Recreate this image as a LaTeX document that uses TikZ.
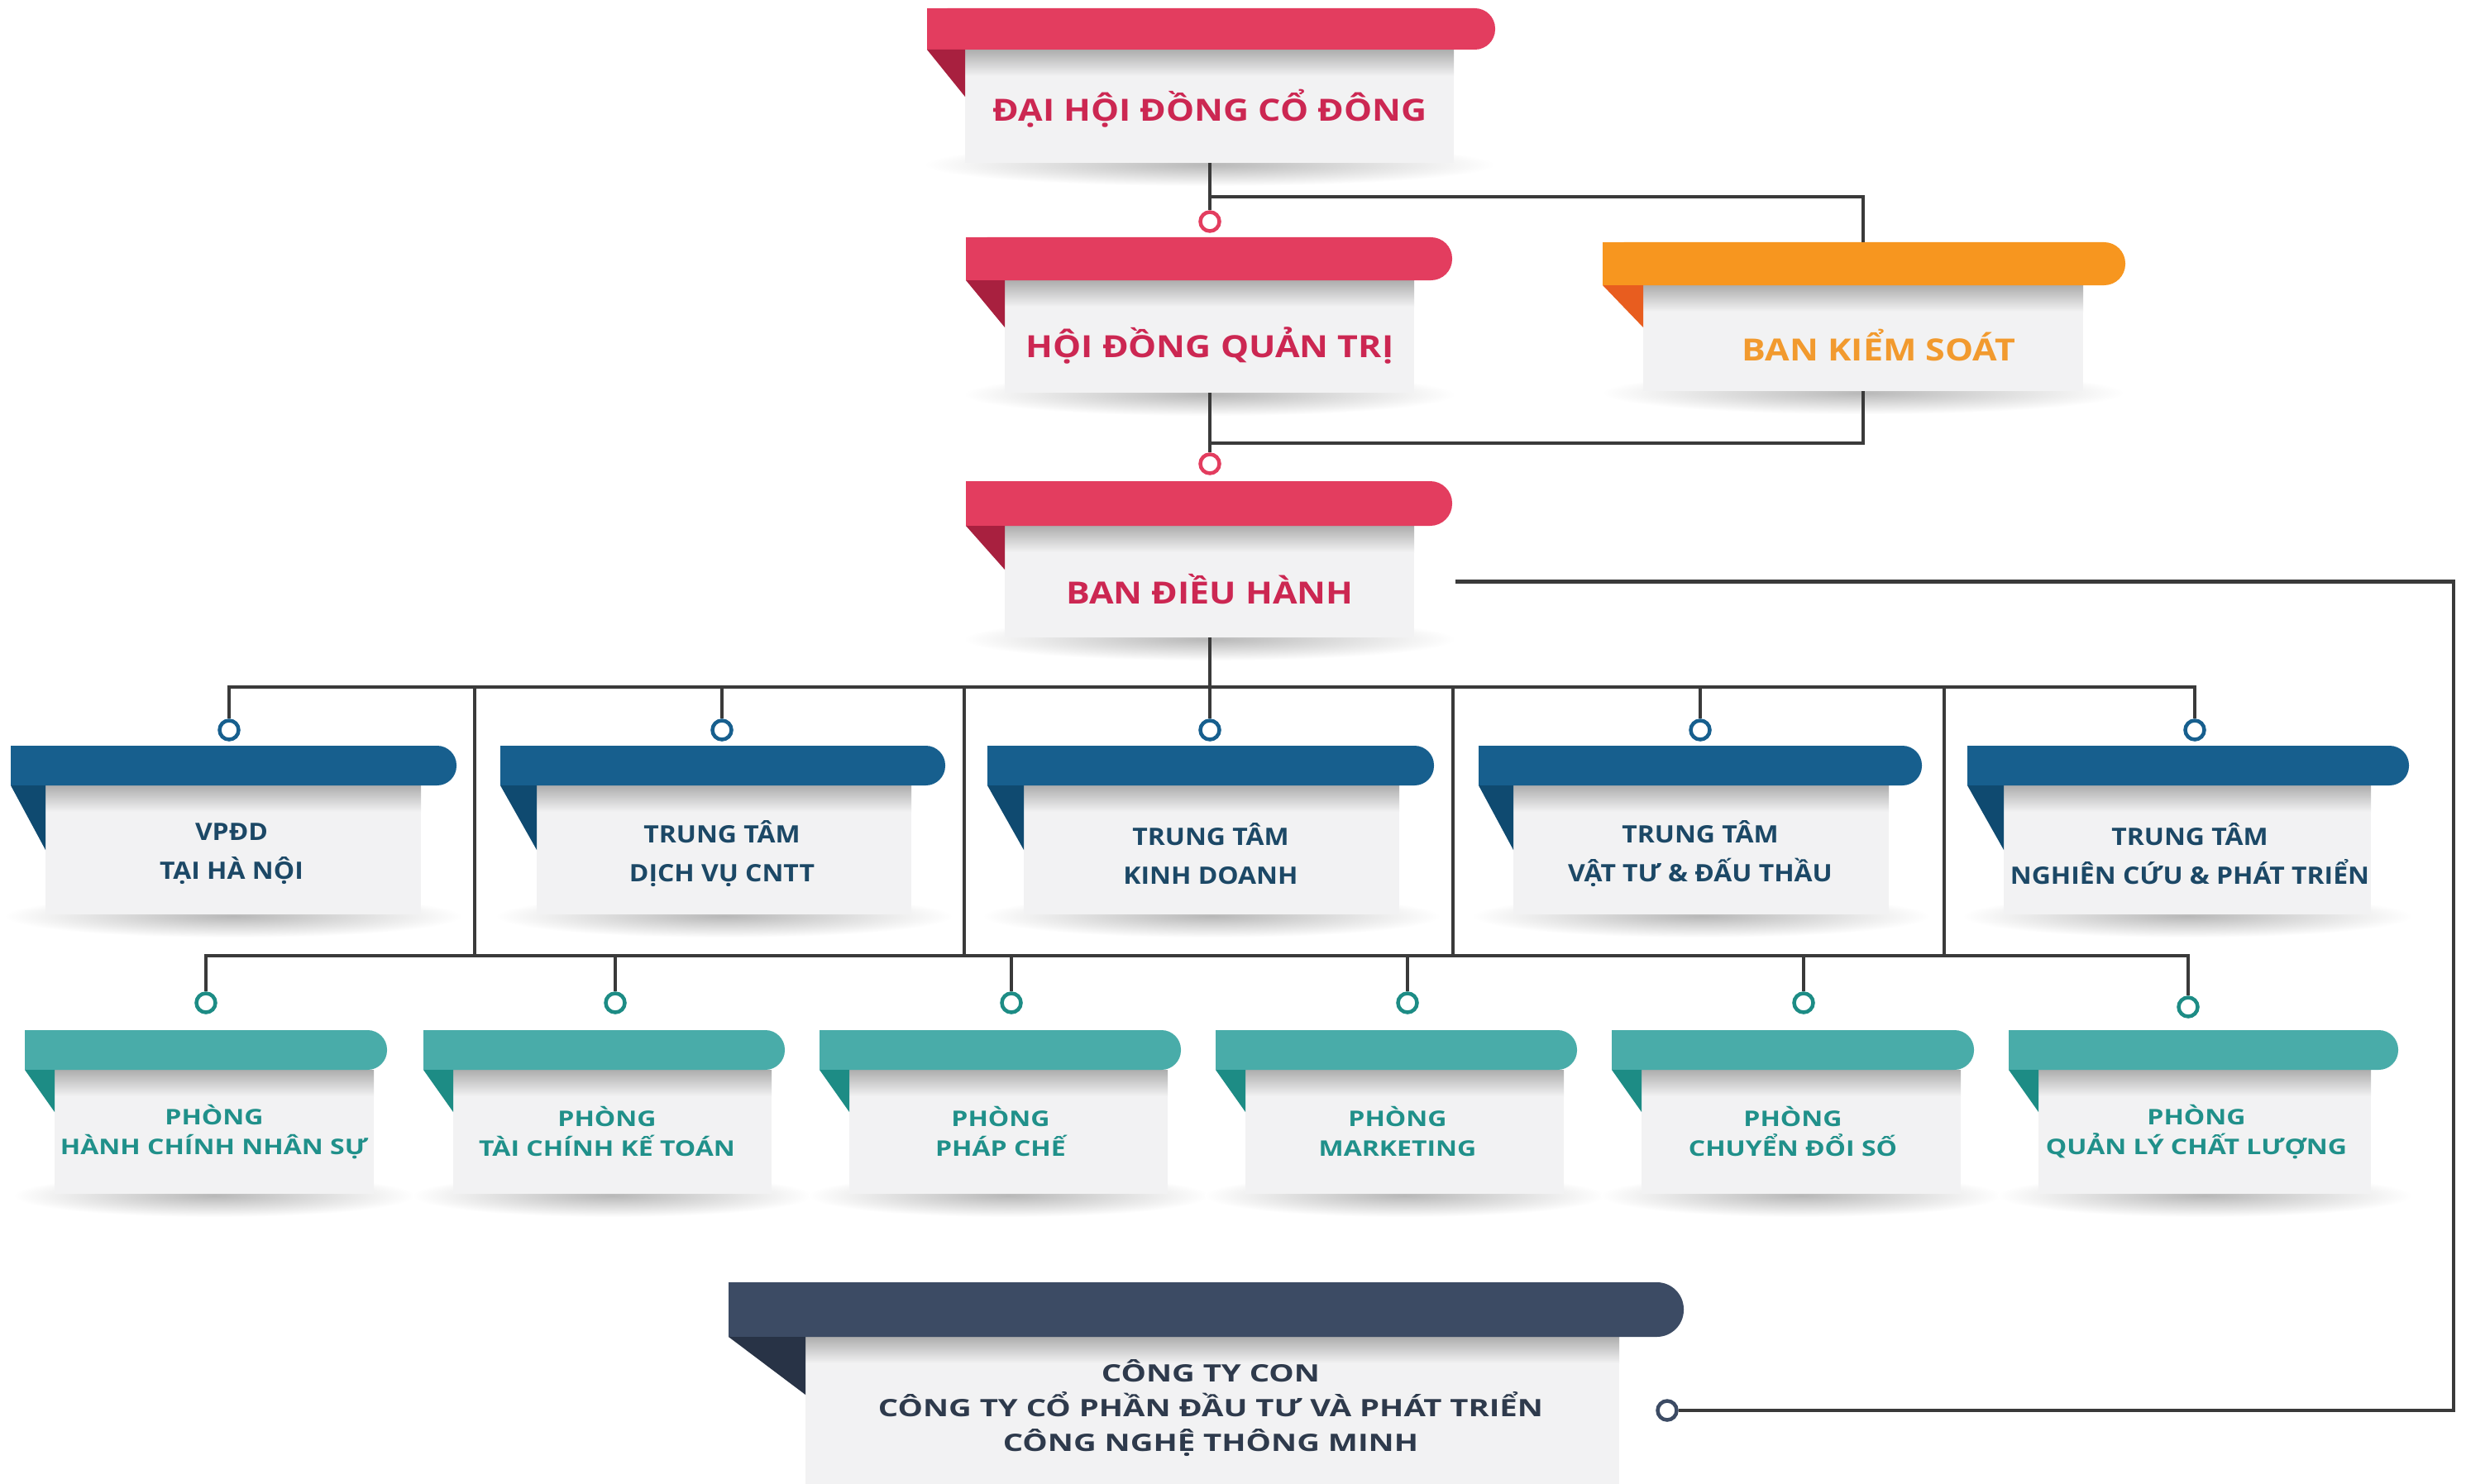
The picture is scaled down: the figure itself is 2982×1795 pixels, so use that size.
\documentclass[tikz,border=0pt]{standalone}
\usepackage{fontspec}
\newfontfamily\redfont{Open Sans}[FakeStretch=1.16]
\newfontfamily\bluefont{Open Sans}[FakeStretch=1.1]
\newfontfamily\tealfont{Open Sans}[FakeStretch=1.23]
\newfontfamily\ctyfont{Open Sans}[FakeStretch=1.32]
\usetikzlibrary{calc}
\definecolor{redbar}{HTML}{E33D5F}
\definecolor{reddark}{HTML}{A8203F}
\definecolor{redtext}{HTML}{CC2752}
\definecolor{orangebar}{HTML}{F7961F}
\definecolor{orangedark}{HTML}{E85D1F}
\definecolor{orangetext}{HTML}{F29A2E}
\definecolor{bluebar}{HTML}{175F8E}
\definecolor{bluedark}{HTML}{0F4A70}
\definecolor{bluetext}{HTML}{1C4866}
\definecolor{tealbar}{HTML}{49ACA9}
\definecolor{tealdark}{HTML}{1D8C85}
\definecolor{tealtext}{HTML}{20908A}
\definecolor{slatebar}{HTML}{3C4B64}
\definecolor{slatedark}{HTML}{283346}
\definecolor{slatetext}{HTML}{2E3A4C}
\definecolor{cardc}{HTML}{F2F2F3}
\definecolor{linec}{HTML}{3A3A3A}
\newcommand\setpal[2]{\def\barcol{#1}\def\foldcol{#2}}
\newcommand\orgbox[9]{%
 \pgfmathsetmacro\cx{(#6+#7)/2}%
 \pgfmathsetmacro\cw{#7-#6}%
 \pgfmathsetmacro\ch{#8-#5}%
 \pgfmathsetmacro\cy{(#5+#8)/2}%
 \pgfmathsetmacro\rr{(#5-#3)/2-0.5}%
 \pgfmathsetmacro\srx{\cw/2+50}%
 \shade[inner color=black!28, outer color=white] (\cx,#8+2) ellipse [x radius=\srx pt, y radius=26pt];
 \node[card, minimum width=\cw pt, minimum height=\ch pt] (#1) at (\cx,\cy) {};
 \shade[top color=black!32, bottom color=cardc] (#6,#5) rectangle (#7,#5+32);
 \fill[\barcol, rounded corners=\rr pt] (#2,#3) rectangle (#4,#5);
 \fill[\barcol] (#2,#3) rectangle (#2+40,#5);
 \fill[\foldcol] (#2,#5) -- (#6,#5) -- (#6,#9) -- cycle;
 \coordinate (#1-top) at (\cx,#3);
}
\tikzset{
 conn/.style={draw=linec, line width=4.5pt},
 dot/.style={circle, draw=#1, fill=white, line width=4.5pt, minimum size=23pt, inner sep=0pt},
 card/.style={fill=cardc, inner sep=0pt, draw=none},
 redlbl/.style={font=\redfont\bfseries\fontsize{37}{44}\selectfont, text=redtext, align=center},
 orangelbl/.style={font=\redfont\bfseries\fontsize{37}{44}\selectfont, text=orangetext, align=center},
 bluelbl/.style={font=\bluefont\bfseries\fontsize{29}{47}\selectfont, text=bluetext, align=center},
 teallbl/.style={font=\tealfont\bfseries\fontsize{26}{36}\selectfont, text=tealtext, align=center},
 slatelbl/.style={font=\ctyfont\bfseries\fontsize{29}{42}\selectfont, text=slatetext, align=center},
}
\begin{document}
\begin{tikzpicture}[x=1pt,y=-1pt]
\fill[white] (0,0) rectangle (2982,1795);
\useasboundingbox (0,0) rectangle (2982,1795);
% ---- top levels
\setpal{redbar}{reddark}
\orgbox{dhcd}{1121}{10}{1808}{60}{1167}{1758}{197}{117}
\node[redlbl] (dhcd-t) at (1463,131) {ĐẠI HỘI ĐỒNG CỔ ĐÔNG};
\orgbox{hdqt}{1168}{287}{1756}{339}{1215}{1710}{475}{396}
\node[redlbl] (hdqt-t) at (1463,418) {HỘI ĐỒNG QUẢN TRỊ};
\orgbox{bdh}{1168}{582}{1756}{636}{1215}{1710}{771}{689}
\node[redlbl] (bdh-t) at (1463,713) {BAN ĐIỀU HÀNH};
\setpal{orangebar}{orangedark}
\orgbox{bks}{1938}{293}{2570}{345}{1987}{2519}{473}{396}
\node[orangelbl] (bks-t) at (2272,418) {BAN KIỂM SOÁT};
% ---- blue row
\setpal{bluebar}{bluedark}
\orgbox{b1}{13}{902}{552}{950}{55}{509}{1106}{1028}
\node[bluelbl] (b1-t) at (280,1033) {VPĐD\\TẠI HÀ NỘI};
\orgbox{b2}{605}{902}{1143}{950}{649}{1102}{1106}{1028}
\node[bluelbl] (b2-t) at (873,1033) {TRUNG TÂM\\DỊCH VỤ CNTT};
\orgbox{b3}{1194}{902}{1734}{950}{1238}{1692}{1106}{1028}
\node[bluelbl] (b3-t) at (1464,1033) {TRUNG TÂM\\KINH DOANH};
\orgbox{b4}{1788}{902}{2324}{950}{1830}{2284}{1106}{1028}
\node[bluelbl] (b4-t) at (2056,1033) {TRUNG TÂM\\VẬT TƯ \& ĐẤU THẦU};
\orgbox{b5}{2379}{902}{2913}{950}{2423}{2867}{1106}{1028}
\node[bluelbl] (b5-t) at (2648,1033) {TRUNG TÂM\\NGHIÊN CỨU \& PHÁT TRIỂN};
% ---- teal row
\setpal{tealbar}{tealdark}
\orgbox{t1}{30}{1246}{468}{1294}{66}{452}{1444}{1345}
\node[teallbl] (t1-t) at (259,1369) {PHÒNG\\HÀNH CHÍNH NHÂN SỰ};
\orgbox{t2}{512}{1246}{949}{1294}{548}{933}{1444}{1345}
\node[teallbl] (t2-t) at (734,1369) {PHÒNG\\TÀI CHÍNH KẾ TOÁN};
\orgbox{t3}{991}{1246}{1428}{1294}{1027}{1412}{1444}{1345}
\node[teallbl] (t3-t) at (1210,1369) {PHÒNG\\PHÁP CHẾ};
\orgbox{t4}{1470}{1246}{1907}{1294}{1506}{1891}{1444}{1345}
\node[teallbl] (t4-t) at (1690,1369) {PHÒNG\\MARKETING};
\orgbox{t5}{1949}{1246}{2387}{1294}{1985}{2371}{1444}{1345}
\node[teallbl] (t5-t) at (2168,1369) {PHÒNG\\CHUYỂN ĐỔI SỐ};
\orgbox{t6}{2429}{1246}{2900}{1294}{2465}{2867}{1444}{1345}
\node[teallbl] (t6-t) at (2656,1369) {PHÒNG\\QUẢN LÝ CHẤT LƯỢNG};
% ---- company
\setpal{slatebar}{slatedark}
\orgbox{cty}{881}{1551}{2036}{1617}{974}{1958}{1830}{1687}
\node[slatelbl] (cty-t) at (1464,1703) {CÔNG TY CON\\CÔNG TY CỔ PHẦN ĐẦU TƯ VÀ PHÁT TRIỂN\\CÔNG NGHỆ THÔNG MINH};
% ---- coordinates
\coordinate (bus1) at (0,238);
\coordinate (bus1b) at (0,536);
\coordinate (bus2) at (0,831);
\coordinate (bus3) at (0,1156);
\coordinate (j1) at (574,831);
\coordinate (j2) at (1166,831);
\coordinate (j3) at (1757,831);
\coordinate (j4) at (2351,831);
% ---- circles
\node[dot=redbar] (c-hdqt) at (1463,268) {};
\node[dot=redbar] (c-bdh) at (1463,561) {};
\node[dot=bluebar] (c-b1) at (277,883) {};
\node[dot=bluebar] (c-b2) at (873,883) {};
\node[dot=bluebar] (c-b3) at (1463,883) {};
\node[dot=bluebar] (c-b4) at (2056,883) {};
\node[dot=bluebar] (c-b5) at (2654,883) {};
\node[dot=tealdark] (c-t1) at (249,1213) {};
\node[dot=tealdark] (c-t2) at (744,1213) {};
\node[dot=tealdark] (c-t3) at (1223,1213) {};
\node[dot=tealdark] (c-t4) at (1702,1213) {};
\node[dot=tealdark] (c-t5) at (2181,1213) {};
\node[dot=tealdark] (c-t6) at (2646,1218) {};
\node[dot=slatebar] (c-cty) at (2016,1706) {};
% ---- connectors
\draw[conn] (c-hdqt.north |- dhcd.south) -- (c-hdqt.north);
\draw[conn] (c-hdqt.north |- bus1) -| (bks-top);
\draw[conn] (c-bdh.north |- hdqt.south) -- (c-bdh.north);
\draw[conn] (bks.south) |- (c-bdh.north |- bus1b);
\draw[conn] (c-b3.north |- bdh.south) -- (c-b3.north);
\draw[conn] (c-b1.north) |- (c-b5.north |- bus2) -- (c-b5.north);
\draw[conn] (c-b2.north) -- (c-b2.north |- bus2);
\draw[conn] (c-b4.north) -- (c-b4.north |- bus2);
\foreach \j in {j1,j2,j3,j4} {\draw[conn] (\j) -- (\j |- bus3);}
\draw[conn] (c-t1.north) |- (c-t6.north |- bus3) -- (c-t6.north);
\foreach \t in {c-t2,c-t3,c-t4,c-t5} {\draw[conn] (\t.north) -- (\t.north |- bus3);}
\draw[conn] ([xshift=50pt]bdh.east) -- ++(1207,0) |- (c-cty.east);
\end{tikzpicture}
\end{document}
